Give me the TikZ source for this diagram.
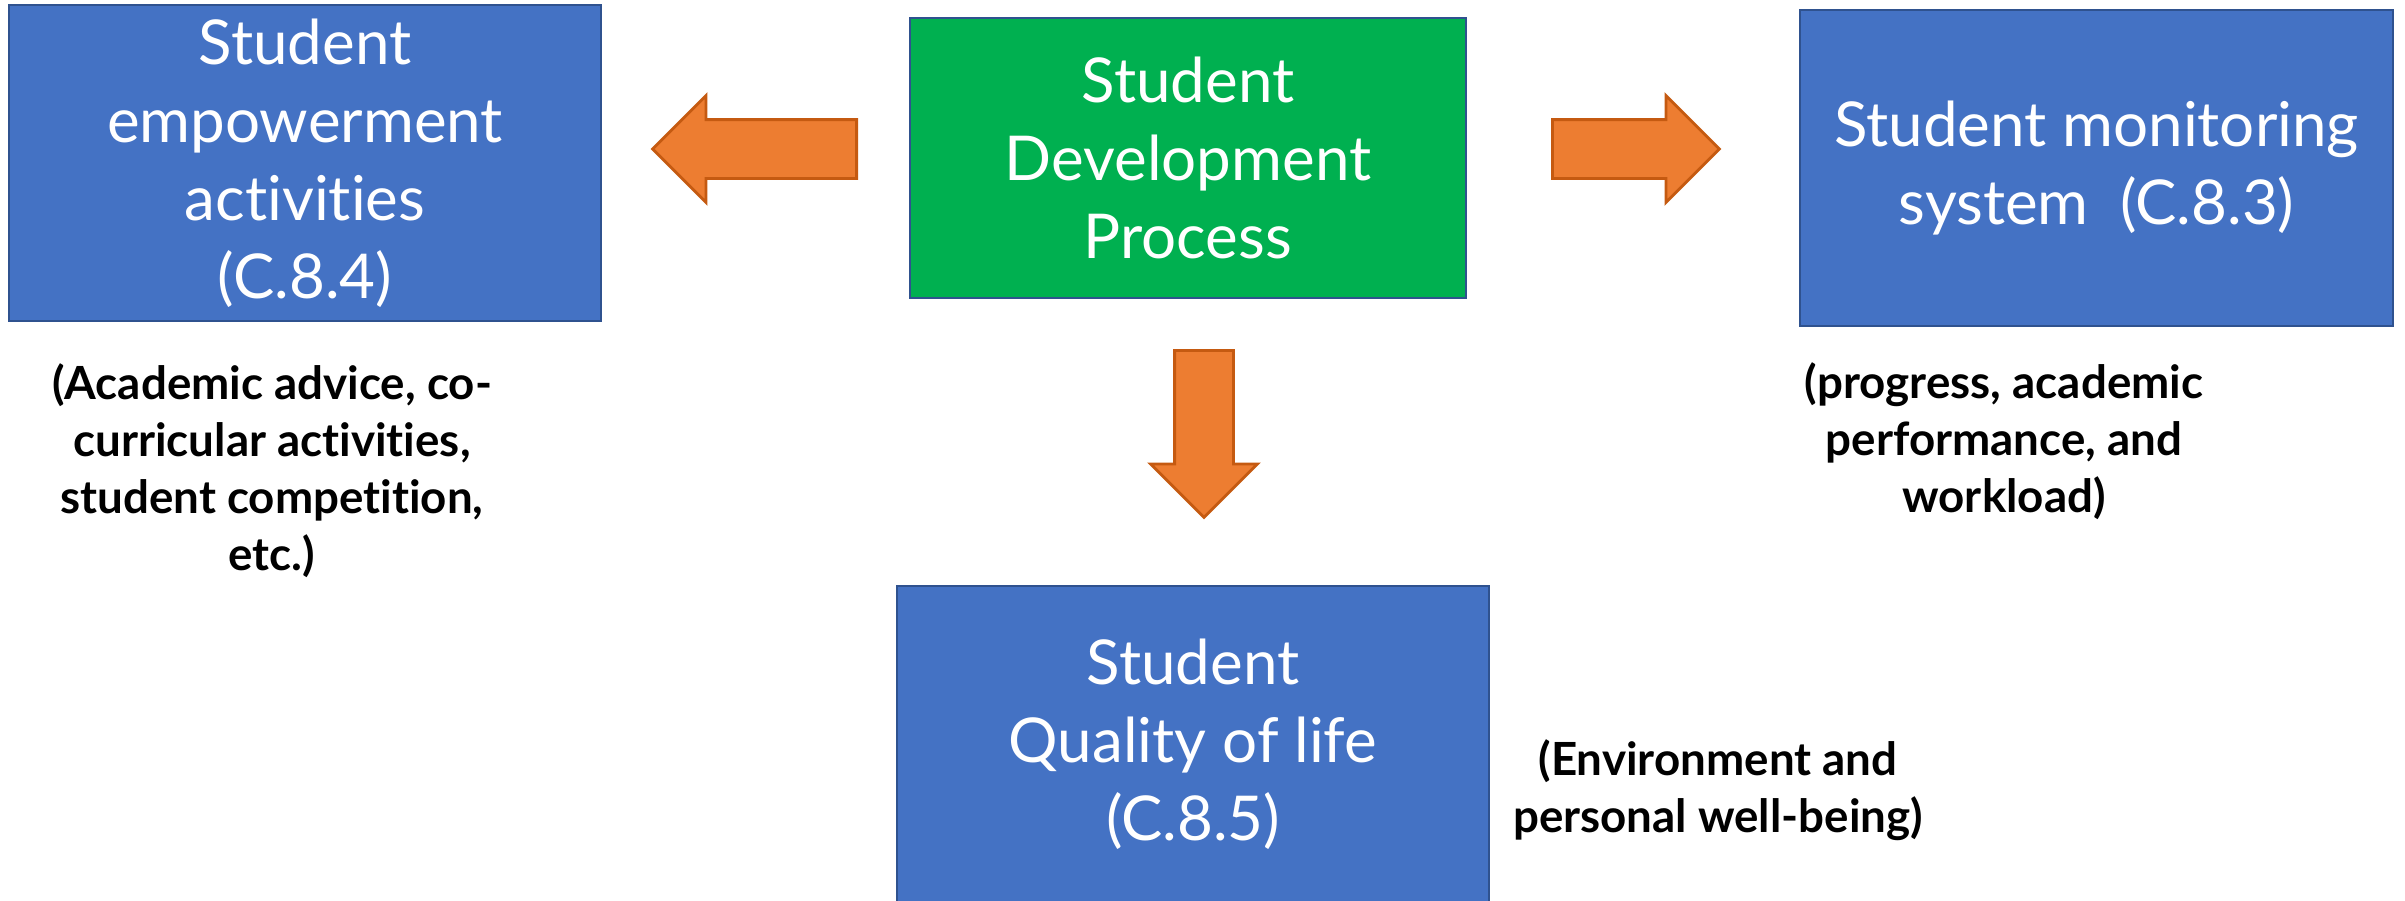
\documentclass[tikz,border=0pt]{standalone}
\usepackage{fontspec}
\setmainfont{Lato}[Ligatures=NoCommon]
\usetikzlibrary{shapes.arrows}
\definecolor{boxblue}{HTML}{4472C4}
\definecolor{boxgreen}{HTML}{00B050}
\definecolor{boxedge}{HTML}{2F528F}
\definecolor{arroworange}{HTML}{ED7D31}
\definecolor{arrowedge}{HTML}{C55A11}
\tikzstyle{box}=[rectangle,draw=boxedge,line width=0.8pt,text=white,align=center,inner sep=0pt,font=\fontsize{17.6}{22.2}\selectfont]
\tikzstyle{bluebox}=[box,fill=boxblue]
\tikzstyle{greenbox}=[box,fill=boxgreen]
\tikzstyle{note}=[align=center,text=black,font=\bfseries\fontsize{13}{16.2}\selectfont]
\tikzstyle{flow}=[single arrow,draw=arrowedge,fill=arroworange,line width=0.8pt,minimum width=1.0cm,single arrow head extend=0.24cm,inner sep=0.28cm,anchor=tail]

\begin{document}
\begin{tikzpicture}

  \useasboundingbox (0,0) rectangle (24.05,-9);

  \node[greenbox,minimum width=5.56cm,minimum height=2.80cm] (P) at (11.88,-1.58) {Student\\Development\\Process};
  \node[bluebox,minimum width=5.92cm,minimum height=3.16cm] (E) at (3.05,-1.63) {Student\\empowerment\\activities\\(C.8.4)};
  \node[bluebox,minimum width=5.93cm,minimum height=3.16cm] (M) at (20.965,-1.68) {Student monitoring\\system~~(C.8.3)};
  \node[bluebox,minimum width=5.92cm,minimum height=3.16cm] (Q) at (11.93,-7.44) {Student\\Quality of life\\(C.8.5)};

  \node[flow,minimum height=2.04cm,shape border rotate=180] (PE) at (8.58,-1.49) {};
  \node[flow,minimum height=1.67cm] (PM) at (15.51,-1.49) {};
  \node[flow,minimum height=1.67cm,shape border rotate=270] (PQ) at (12.04,-3.49) {};

  % les notes
  \node[note] (En) at (2.72,-4.71) {(Academic advice, co-\\curricular activities,\\student competition,\\etc.)};
  \node[note] (Mn) at (20.04,-4.41) {(progress, academic\\performance, and\\workload)};
  \node[note] (Qn) at (17.18,-7.90) {(Environment and\\personal well-being)};

\end{tikzpicture}
\end{document}
